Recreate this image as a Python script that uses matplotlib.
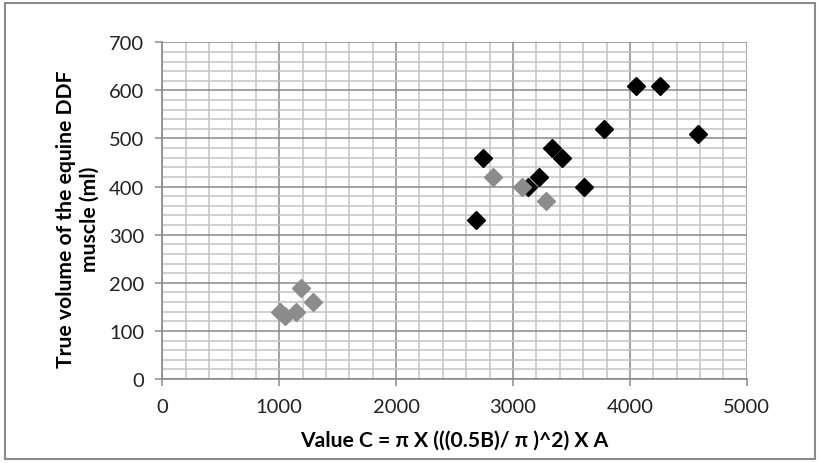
import numpy as np
import matplotlib.pyplot as plt
from matplotlib.patches import Rectangle
from matplotlib.ticker import MultipleLocator

plt.rcParams['font.family'] = ['Lato', 'DejaVu Sans']

# dados (serie preta e serie cinza)
x_preto = [2680, 2745, 3125, 3220, 3330, 3420, 3610, 3780, 4050, 4260, 4580]
y_preto = [330, 460, 400, 420, 480, 460, 400, 520, 610, 610, 510]

x_cinza = [1010, 1050, 1140, 1190, 1285, 2825, 3080, 3280]
y_cinza = [140, 130, 140, 190, 160, 420, 400, 370]

x_ticks = [0, 1000, 2000, 3000, 4000, 5000]
y_ticks = [0, 100, 200, 300, 400, 500, 600, 700]

fig = plt.figure(figsize=(8.22, 4.64), dpi=100)
ax = fig.add_axes([0.1975, 0.181, 0.711, 0.7257])

# moldura externa
fig.patches.append(Rectangle((0.006, 0.008), 0.986, 0.984, transform=fig.transFigure,
                             fill=False, edgecolor='#8a8a8a', linewidth=1.5))

ax.plot(x_preto, y_preto, linestyle='none', marker='D', markersize=9,
        color='black', zorder=3)
ax.plot(x_cinza, y_cinza, linestyle='none', marker='D', markersize=9,
        color='#8c8c8c', zorder=4)

ax.set_xlim(0, 5000)
ax.set_ylim(0, 700)
ax.set_xticks(x_ticks)
ax.set_yticks(y_ticks)
ax.xaxis.set_minor_locator(MultipleLocator(200))
ax.yaxis.set_minor_locator(MultipleLocator(20))

ax.grid(which='minor', color='#c4c4c4', linewidth=1.1, zorder=0)
ax.grid(which='major', color='#8a8a8a', linewidth=1.1, zorder=1)
ax.set_axisbelow(True)

for lado in ['top', 'right']:
    ax.spines[lado].set_visible(False)
for lado in ['left', 'bottom']:
    ax.spines[lado].set_color('#8a8a8a')
    ax.spines[lado].set_linewidth(1.2)

ax.tick_params(which='major', direction='out', length=5, width=1.1, color='#8a8a8a',
               labelsize=14.5, labelcolor='#222222', pad=8)
ax.tick_params(which='minor', length=0)
ax.tick_params(axis='x', pad=9)

ax.set_xlabel("Value C = π X (((0.5B)/ π )^2) X A", fontsize=15.2, fontweight='bold',
              labelpad=10)
ax.set_ylabel("True volume of the equine DDF\nmuscle (ml)", fontsize=15.2,
              fontweight='bold', linespacing=1.2)
ax.yaxis.set_label_coords(-0.108, 0.478)

fig.savefig('out.png', dpi=100)
